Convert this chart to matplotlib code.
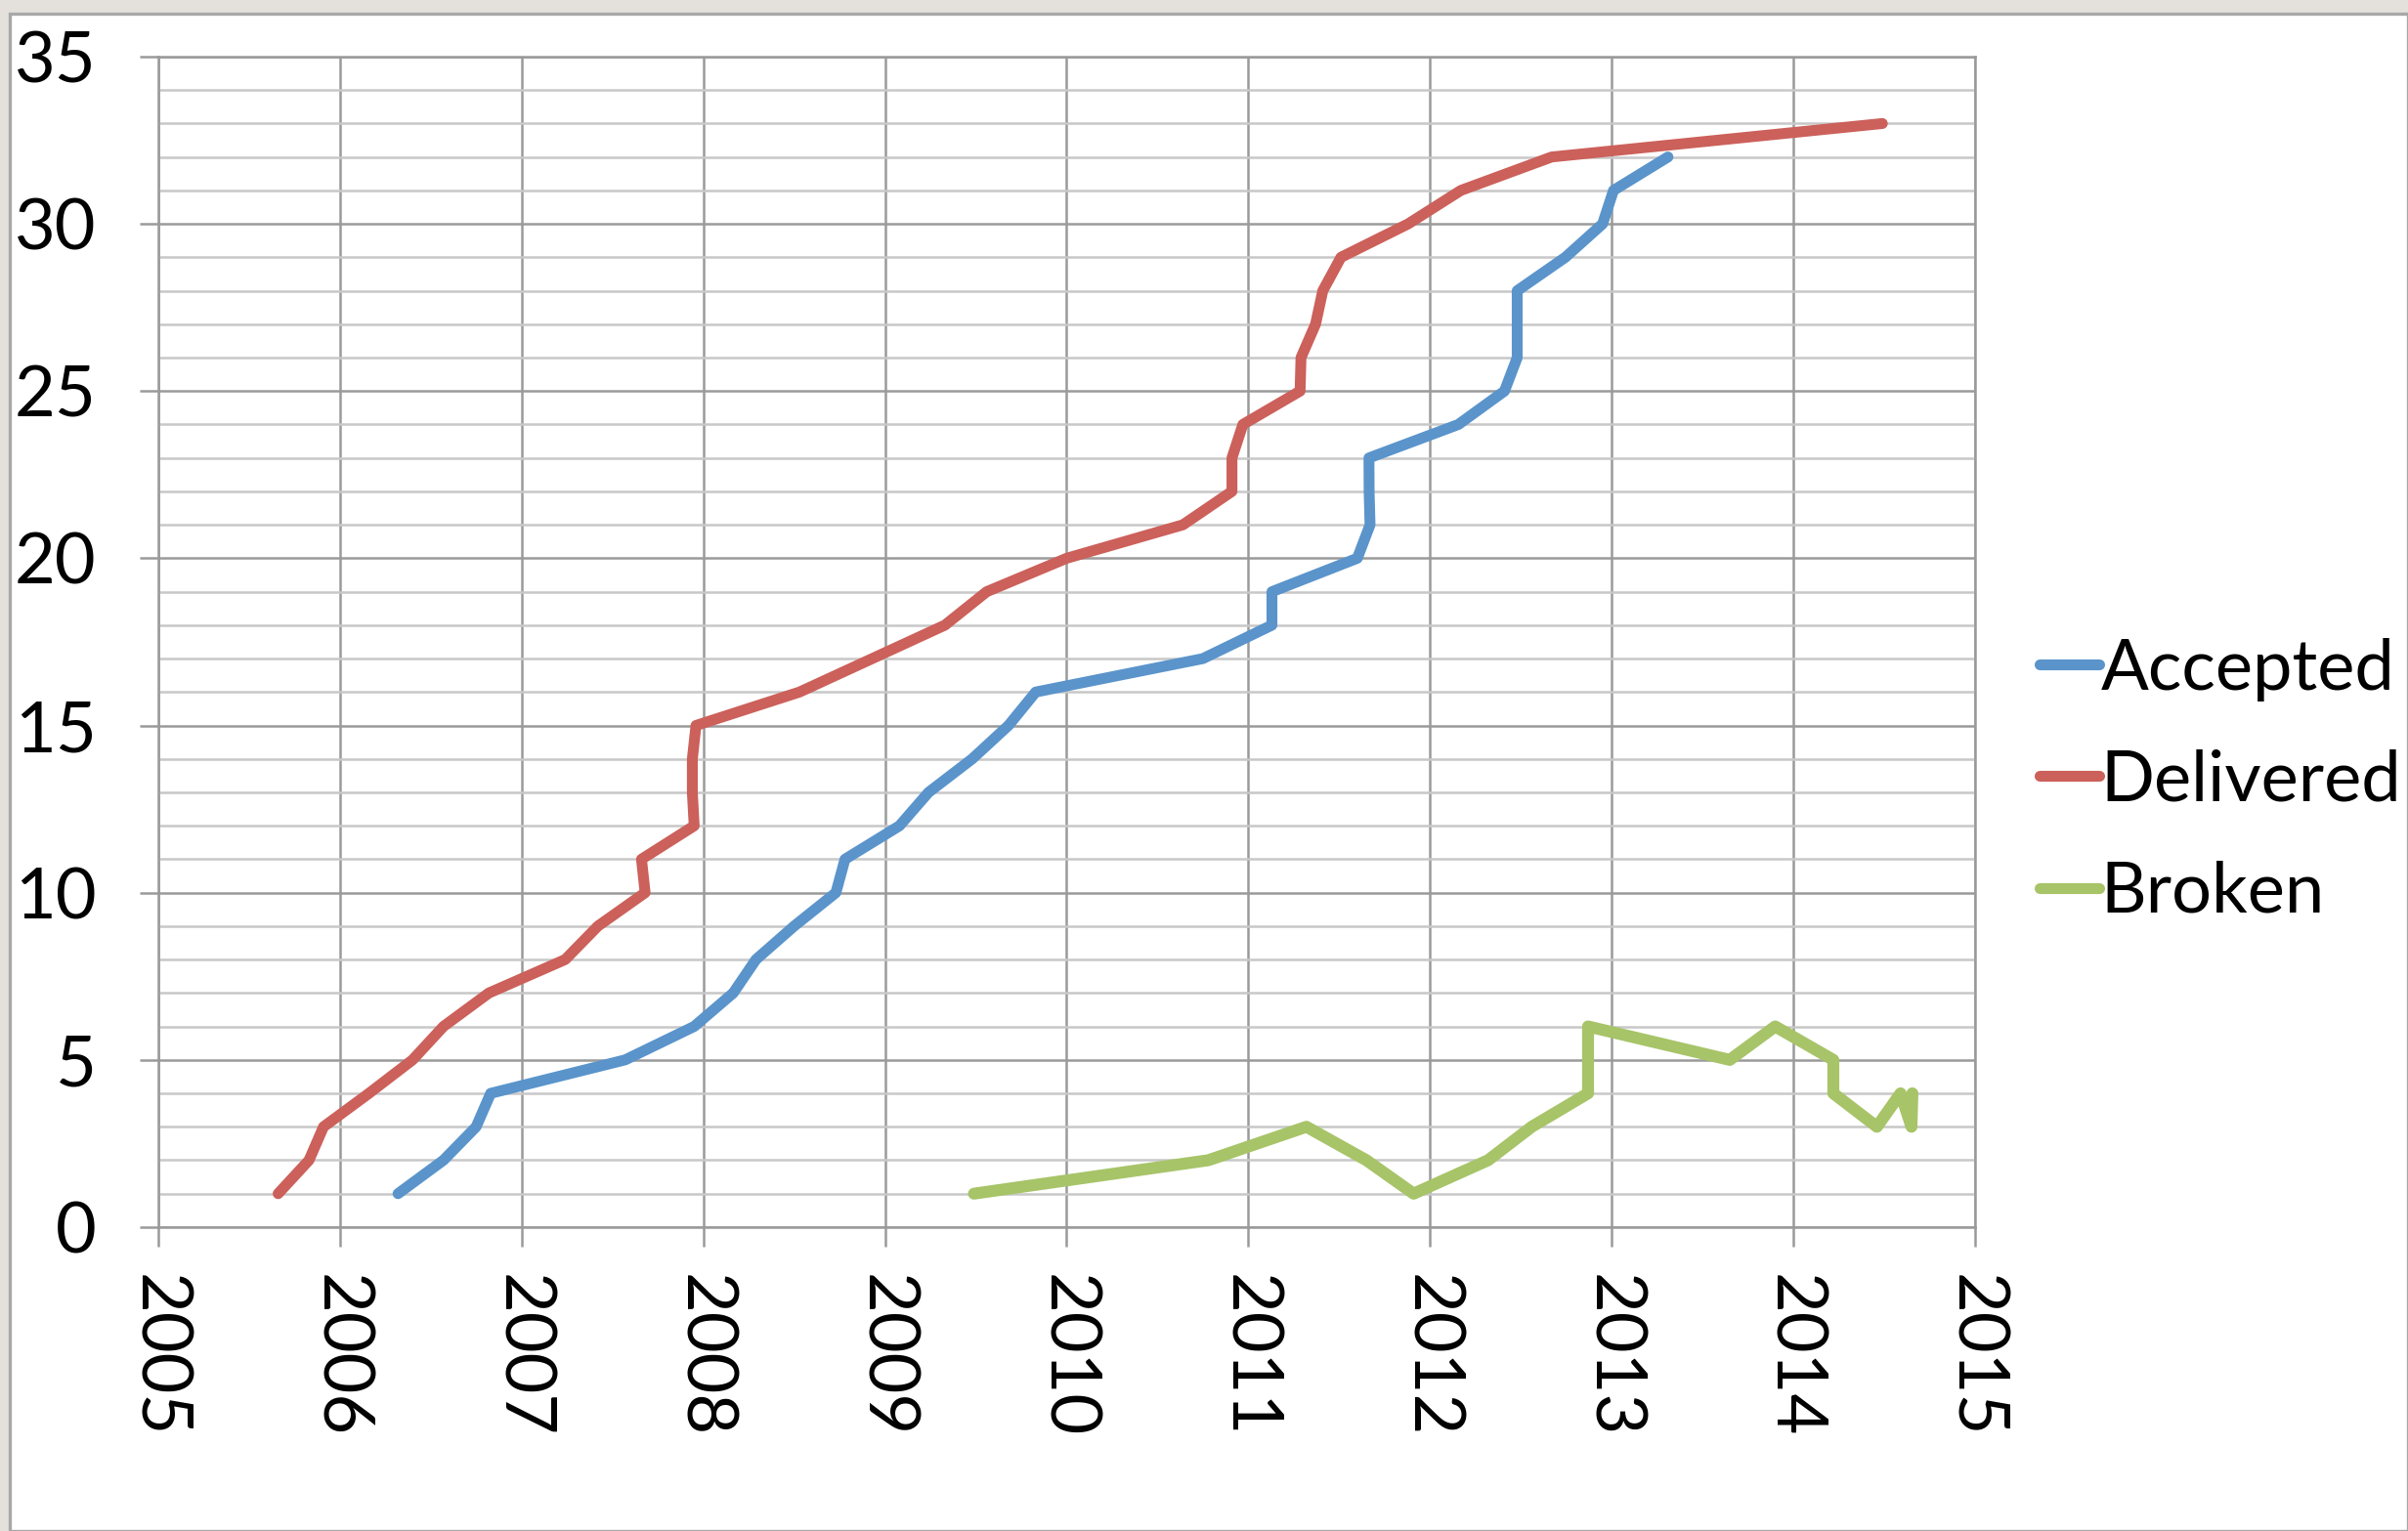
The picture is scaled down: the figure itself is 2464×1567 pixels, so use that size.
import matplotlib
matplotlib.use("Agg")
import matplotlib.pyplot as plt
from matplotlib.patches import Rectangle
from matplotlib.ticker import MultipleLocator

plt.rcParams['font.family'] = ['Lato', 'DejaVu Sans']

# cumulative counts against (fractional) year
accepted_years = [2006.32, 2006.57, 2006.75, 2006.83, 2007.57, 2007.95, 2008.165, 2008.29,
                  2008.50, 2008.73, 2008.78, 2009.08, 2009.24, 2009.48, 2009.68, 2009.83,
                  2010.75, 2011.13, 2011.13, 2011.60, 2011.67, 2011.665, 2011.664, 2012.156,
                  2012.41, 2012.48, 2012.48, 2012.48, 2012.745, 2012.95, 2013.01, 2013.31]
accepted_counts = list(range(1, 33))

delivered_years = [2005.66, 2005.83, 2005.91, 2006.16, 2006.40, 2006.57, 2006.82, 2007.24,
                   2007.42, 2007.68, 2007.66, 2007.95, 2007.94, 2007.94, 2007.96, 2008.53,
                   2008.93, 2009.33, 2009.56, 2010.0, 2010.64, 2010.91, 2010.91, 2010.97,
                   2011.285, 2011.29, 2011.37, 2011.41, 2011.51, 2011.88, 2012.17, 2012.67,
                   2014.49]
delivered_counts = list(range(1, 34))

broken_years = [2009.49, 2010.78, 2011.32, 2011.65, 2011.91, 2012.32, 2012.56, 2012.87,
                2012.87, 2013.65, 2013.90, 2014.22, 2014.22, 2014.46, 2014.59, 2014.65,
                2014.655]
broken_counts = [1, 2, 3, 2, 1, 2, 3, 4, 6, 5, 6, 5, 4, 3, 4, 3, 4]

year_ticks = list(range(2005, 2016))

fig = plt.figure(figsize=(12.32, 7.835), dpi=200)
fig.patch.set_facecolor('#e4e1dc')
fig.patches.append(Rectangle((0.004, 0), 0.996, 0.991, transform=fig.transFigure,
                             facecolor='white', edgecolor='#a8a8a8', linewidth=1.2, zorder=-5))

ax = fig.add_axes([0.0657, 0.1985, 0.7545, 0.7645])
ax.set_facecolor('white')

ax.plot(accepted_years, accepted_counts, color='#5a94cb', lw=4.0, label='Accepted',
        solid_capstyle='round', solid_joinstyle='round', zorder=3)
ax.plot(delivered_years, delivered_counts, color='#cc605a', lw=4.0, label='Delivered',
        solid_capstyle='round', solid_joinstyle='round', zorder=3)
ax.plot(broken_years, broken_counts, color='#a7c468', lw=4.4, label='Broken',
        solid_capstyle='round', solid_joinstyle='round', zorder=3)

ax.set_xlim(2005, 2015)
ax.set_ylim(0, 35)
ax.set_xticks(year_ticks)
ax.set_xticklabels([str(y) for y in year_ticks], rotation=270, va='top', ha='center')
ax.yaxis.set_major_locator(MultipleLocator(5))
ax.yaxis.set_minor_locator(MultipleLocator(1))

ax.grid(which='major', axis='both', color='#9a9a9a', lw=0.9)
ax.grid(which='minor', axis='y', color='#c8c8c8', lw=0.9)
ax.set_axisbelow(True)
for s in ax.spines.values():
    s.set_color('#9a9a9a')
    s.set_linewidth(0.9)

ax.tick_params(axis='both', which='major', labelsize=26, color='#9a9a9a', width=0.9)
ax.tick_params(axis='x', which='major', length=7.3, pad=10)
ax.tick_params(axis='y', which='major', length=6.8, pad=16)
ax.tick_params(axis='y', which='minor', length=0)

leg = fig.legend(loc='center left', bbox_to_anchor=(0.847, 0.49), frameon=False,
                 fontsize=26, handlelength=0.85, handletextpad=0.02, labelspacing=0.68,
                 borderpad=0, borderaxespad=0)
for h in leg.get_lines():
    h.set_solid_capstyle('round')
    h.set_linewidth(4.0)

fig.savefig('out.png', dpi=200, facecolor=fig.get_facecolor())
